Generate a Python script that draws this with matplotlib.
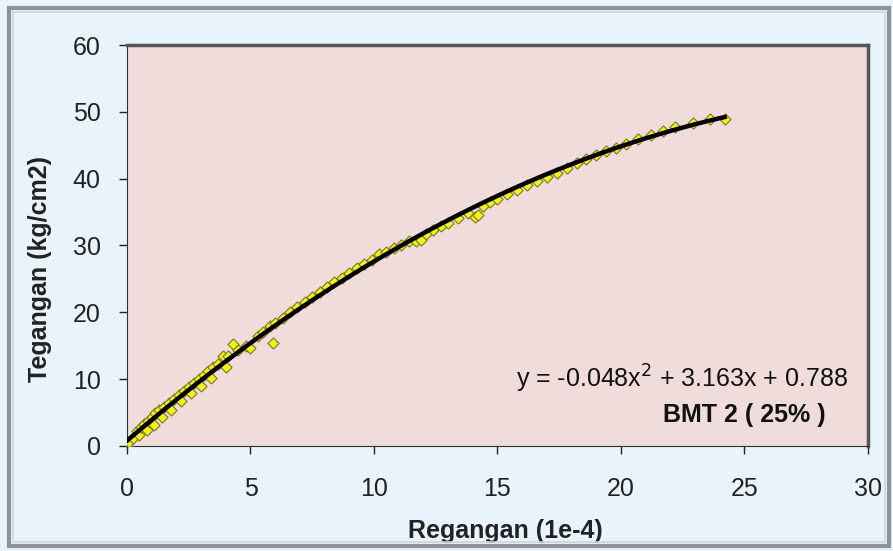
import numpy as np
import matplotlib.pyplot as plt
from matplotlib.patches import Rectangle

plt.rcParams['font.family'] = ['Liberation Sans', 'DejaVu Sans']

# strain (1e-4) and stress (kg/cm2) readings
regangan = [0.0, 0.1, 0.25, 0.4, 0.5, 0.55, 0.7, 0.8, 0.85, 1.0, 1.1, 1.15, 1.3, 1.4,
            1.5, 1.7, 1.8, 1.9, 2.1, 2.2, 2.3, 2.5, 2.6, 2.7, 2.9, 3.0, 3.1, 3.3, 3.4,
            3.5, 3.7, 3.9, 4.0, 4.1, 4.3, 4.5, 4.8, 5.0, 5.3, 5.5, 5.8, 5.9, 6.0, 6.3,
            6.6, 6.9, 7.2, 7.5, 7.8, 8.1, 8.4, 8.7, 9.0, 9.3, 9.6, 9.9, 10.2, 10.5,
            10.8, 11.1, 11.4, 11.7, 11.9, 12.1, 12.4, 12.7, 13.0, 13.4, 13.8, 14.1,
            14.2, 14.4, 14.7, 15.0, 15.4, 15.8, 16.2, 16.6, 17.0, 17.4, 17.8, 18.2,
            18.6, 19.0, 19.4, 19.8, 20.2, 20.7, 21.2, 21.7, 22.2, 22.9, 23.6, 24.2]
tegangan = [0.0, 0.6, 1.2, 2.3, 1.6, 2.9, 3.3, 2.4, 3.8, 4.3, 3.2, 4.9, 5.4, 4.3,
            5.9, 6.5, 5.4, 7.0, 7.7, 6.7, 8.3, 8.9, 7.9, 9.4, 10.0, 9.0, 10.6, 11.2, 10.2,
            11.8, 12.3, 13.4, 11.8, 13.5, 15.2, 14.4, 15.0, 14.6, 16.5, 17.1, 17.9, 15.4, 18.4,
            19.2, 20.0, 20.8, 21.5, 22.3, 23.0, 23.8, 24.5, 25.2, 25.9, 26.6, 27.3, 27.9,
            28.8, 29.0, 29.6, 30.1, 30.6, 30.6, 30.8, 31.7, 32.3, 32.9, 33.4, 34.1, 34.9,
            34.3, 34.6, 35.9, 36.5, 37.0, 37.7, 38.3, 39.0, 39.6, 40.3, 40.9, 41.6, 42.3,
            42.9, 43.5, 44.1, 44.6, 45.2, 45.9, 46.5, 47.1, 47.7, 48.4, 48.9, 48.9]

# second order trendline
koef = [-0.048, 3.163, 0.788]
label_persamaan = 'y = -0.048x$^{2}$ + 3.163x + 0.788'
judul_seri = 'BMT 2 ( 25% )'

FS = 18

fig = plt.figure(figsize=(8.93, 5.51), dpi=100)
fig.patch.set_facecolor('#e9f3fc')

# bevelled outer frame
fig.patches.append(Rectangle((0.010, 0.009), 0.9855, 0.976, transform=fig.transFigure,
                             fill=False, edgecolor='#8d9399', linewidth=3.0))
fig.patches.append(Rectangle((0.0145, 0.016), 0.9765, 0.962, transform=fig.transFigure,
                             fill=False, edgecolor='#cdd5dd', linewidth=1.2))

ax = fig.add_axes([0.1422, 0.1906, 0.8298, 0.7277])
ax.set_facecolor('#f1dcdc')

ax.scatter(regangan, tegangan, marker='D', s=32, facecolor='#f2f01e',
           edgecolor='#7a7a20', linewidth=0.8, zorder=3)

xf = np.linspace(0, max(regangan), 200)
ax.plot(xf, np.polyval(koef, xf), color='black', linewidth=3.2, zorder=4)

ax.text(0.973, 0.145, label_persamaan, transform=ax.transAxes, ha='right',
        va='baseline', fontsize=FS, color='#111111')
ax.text(0.943, 0.06, judul_seri, transform=ax.transAxes, ha='right',
        va='baseline', fontsize=FS, fontweight='bold', color='#111111')

ax.set_xlim(0, 30)
ax.set_ylim(0, 60)
ax.set_xticks(range(0, 31, 5))
ax.set_yticks(range(0, 61, 10))
ax.tick_params(direction='out', length=6, width=1, labelsize=FS, colors='#222222')
ax.tick_params(axis='x', pad=16)
ax.tick_params(axis='y', pad=13)

ax.spines['left'].set_color('#333333')
ax.spines['bottom'].set_color('#333333')
ax.spines['top'].set_color('#555555')
ax.spines['right'].set_color('#555555')
ax.spines['top'].set_linewidth(2.5)
ax.spines['right'].set_linewidth(2.5)

ax.set_xlabel('Regangan (1e-4)', fontsize=FS, fontweight='bold', color='#222222')
ax.set_ylabel('Tegangan (kg/cm2)', fontsize=FS, fontweight='bold', color='#222222')
ax.xaxis.set_label_coords(0.511, -0.183)
ax.yaxis.set_label_coords(-0.101, 0.441)

fig.savefig('out.png', dpi=100, facecolor=fig.get_facecolor())
